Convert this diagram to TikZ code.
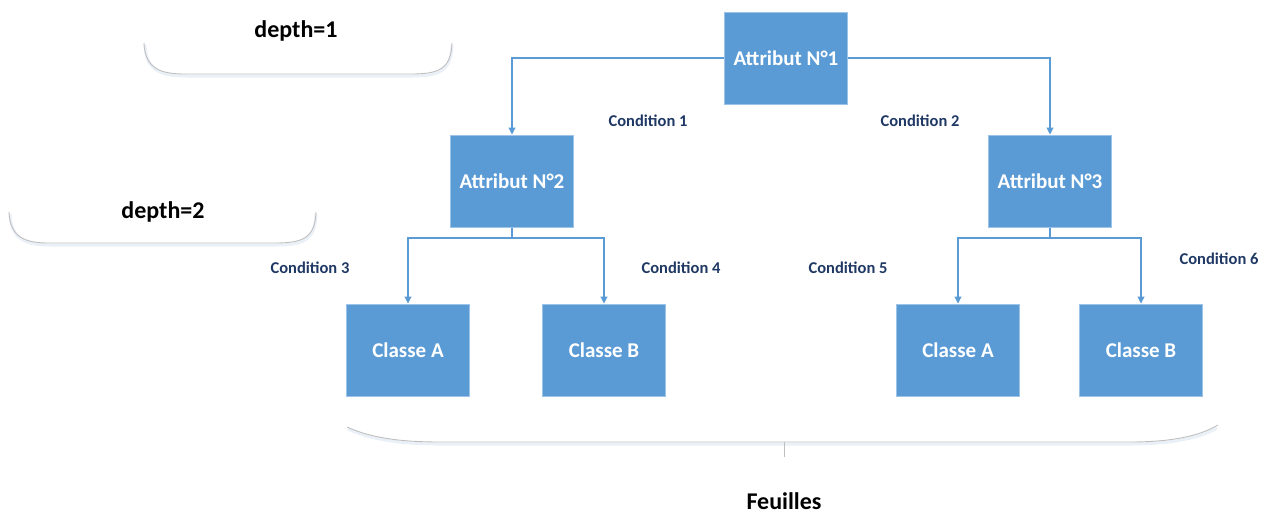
\documentclass[tikz,border=0pt]{standalone}
\usepackage{fontspec}
\setmainfont{Carlito}
\usetikzlibrary{arrows.meta}
\definecolor{boxfill}{HTML}{5B9BD5}
\definecolor{boxedge}{HTML}{9DC3E6}
\definecolor{linkblue}{HTML}{5B9BD5}
\definecolor{condtext}{HTML}{1F3864}
\definecolor{bracegray}{HTML}{BFBFBF}
\definecolor{braceshade}{HTML}{EAF0F7}
\tikzset{
  treebox/.style={rectangle, fill=boxfill, draw=boxedge, line width=1pt,
    minimum width=123pt, minimum height=92pt, inner sep=0pt,
    text=white, font=\fontsize{21}{24}\selectfont\bfseries},
  condlabel/.style={text=condtext, font=\fontsize{16.5}{19}\selectfont\bfseries, inner sep=0pt},
  depthlabel/.style={text=black, font=\fontsize{24}{28}\selectfont\bfseries, inner sep=0pt},
  link/.style={draw=linkblue, line width=1.1pt, -{Triangle[width=7pt,length=7pt]}},
  stem/.style={draw=linkblue, line width=1.1pt},
  bracket/.style={draw=bracegray, line width=0.9pt},
  bracketshade/.style={draw=braceshade, line width=3pt}
}
\begin{document}
\begin{tikzpicture}[x=1pt,y=-1pt]
  \useasboundingbox (0,0) rectangle (1269,515);

  % tree nodes
  \node[treebox] (a1) at (786,58) {Attribut N°1};
  \node[treebox] (a2) at (512,181) {Attribut N°2};
  \node[treebox] (a3) at (1050,181) {Attribut N°3};
  \node[treebox] (ca1) at (408,350) {Classe A};
  \node[treebox] (cb1) at (604,350) {Classe B};
  \node[treebox] (ca2) at (958,350) {Classe A};
  \node[treebox] (cb2) at (1141,350) {Classe B};

  % branch junctions
  \coordinate (j2) at (512,238);
  \coordinate (j3) at (1050,238);

  % connectors
  \draw[link] (a1.west) -| (a2.north);
  \draw[link] (a1.east) -| (a3.north);
  \draw[stem] (a2.south) -- (j2);
  \draw[link] (j2) -| (ca1.north);
  \draw[link] (j2) -| (cb1.north);
  \draw[stem] (a3.south) -- (j3);
  \draw[link] (j3) -| (ca2.north);
  \draw[link] (j3) -| (cb2.north);

  % branch conditions
  \node[condlabel] (c1) at (648,121) {Condition 1};
  \node[condlabel] (c2) at (920,121) {Condition 2};
  \node[condlabel] (c3) at (310,268) {Condition 3};
  \node[condlabel] (c4) at (681,268) {Condition 4};
  \node[condlabel] (c5) at (848,268) {Condition 5};
  \node[condlabel] (c6) at (1219,259) {Condition 6};

  % depth markers
  \draw[bracketshade] (145,45) .. controls (146,71) and (162,76) .. (186,76)
    -- (412,76) .. controls (440,76) and (451,71) .. (452,45);
  \draw[bracket] (144,43) .. controls (145,69) and (161,74) .. (185,74)
    -- (411,74) .. controls (439,74) and (451,69) .. (452,43);
  \node[depthlabel] (d1) at (296,31) {depth=1};

  \draw[bracketshade] (10,214) .. controls (11,240) and (27,245) .. (50,245)
    -- (276,245) .. controls (304,245) and (315,240) .. (316,214);
  \draw[bracket] (9,212) .. controls (10,238) and (26,243) .. (49,243)
    -- (275,243) .. controls (303,243) and (315,238) .. (316,212);
  \node[depthlabel] (d2) at (163,212) {depth=2};

  % leaves bracket
  \draw[bracketshade] (348,429) .. controls (372,440) and (402,444) .. (440,444)
    -- (1130,444) .. controls (1168,444) and (1198,439) .. (1217,428);
  \draw[bracket] (347,427) .. controls (371,438) and (401,442) .. (440,442)
    -- (1130,442) .. controls (1168,442) and (1198,437) .. (1218,425);
  \coordinate (ltop) at (784,442);
  \coordinate (lbot) at (784,457);
  \draw[bracket] (ltop) -- (lbot);
  \node[depthlabel] (leaves) at (784,501) {Feuilles};
\end{tikzpicture}
\end{document}
